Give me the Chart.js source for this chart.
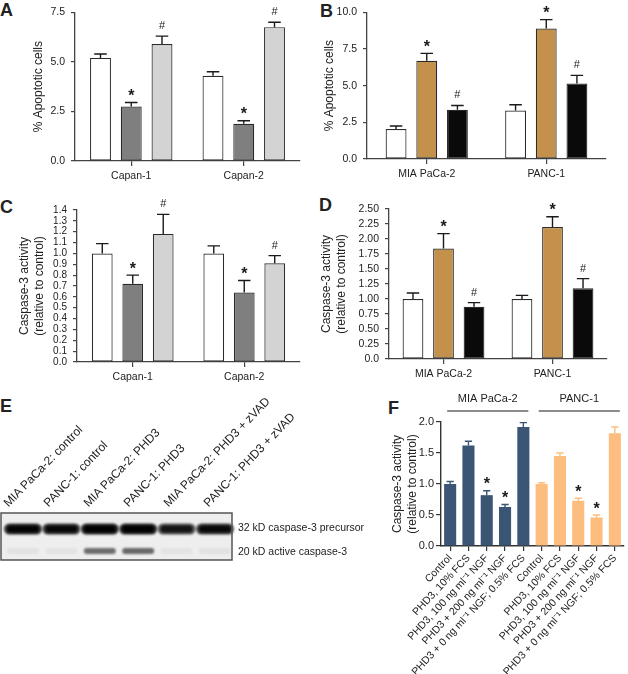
<!DOCTYPE html>
<html>
<head>
<meta charset="utf-8">
<script src="https://cdn.jsdelivr.net/npm/chart.js@4.4.0/dist/chart.umd.min.js"></script>
<style>
  body { margin: 0; background: #fff; width: 628px; height: 674px; position: relative; overflow: hidden;
         font-family: "Liberation Sans", Arial, sans-serif; color: #222; }
  canvas { position: absolute; }
  .letter { position: absolute; font-weight: bold; font-size: 18px; line-height: 18px; }
  .lane { position: absolute; font-size: 12px; line-height: 12px; white-space: nowrap;
          transform-origin: 0 100%; transform: rotate(-46deg); }
  .band { position: absolute; font-size: 10.5px; line-height: 12px; white-space: nowrap; }
</style>
</head>
<body>
<div class="letter" style="left:0px;top:1px">A</div>
<div class="letter" style="left:320px;top:2px">B</div>
<div class="letter" style="left:0px;top:198px">C</div>
<div class="letter" style="left:319px;top:196px">D</div>
<div class="letter" style="left:0px;top:397px">E</div>
<div class="letter" style="left:388px;top:399px">F</div>

<canvas id="chartA" width="310" height="190" style="left:0;top:0"></canvas>
<canvas id="chartB" width="314" height="190" style="left:314px;top:0"></canvas>
<canvas id="chartC" width="310" height="195" style="left:0;top:195px"></canvas>
<canvas id="chartD" width="314" height="195" style="left:314px;top:195px"></canvas>
<canvas id="blot" width="240" height="62" style="left:0;top:505px"></canvas>
<div id="laneLabels"></div>
<div class="band" style="left:238px;top:521px">32 kD caspase-3 precursor</div>
<div class="band" style="left:238px;top:545px">20 kD active caspase-3</div>
<canvas id="chartF" width="240" height="284" style="left:388px;top:390px"></canvas>

<script>
Chart.defaults.font.family = '"Liberation Sans", Arial, sans-serif';
Chart.defaults.color = '#222';

// ---- data ----
var capanLabels = ['Capan-1', 'Capan-2'];
var pancLabels = ['MIA PaCa-2', 'PANC-1'];

// A: % apoptotic cells (Capan)
var aControl = [5.2, 4.3];
var aControlErr = [0.2, 0.2];
var aPhd3 = [2.75, 1.88];
var aPhd3Err = [0.2, 0.15];
var aRescue = [5.9, 6.75];
var aRescueErr = [0.4, 0.25];

// B: % apoptotic cells (MIA PaCa-2, PANC-1)
var bControl = [2.05, 3.3];
var bControlErr = [0.2, 0.4];
var bPhd3 = [6.7, 8.9];
var bPhd3Err = [0.5, 0.6];
var bRescue = [3.35, 5.15];
var bRescueErr = [0.3, 0.55];

// C: caspase-3 activity (Capan)
var cControl = [1.0, 1.0];
var cControlErr = [0.09, 0.07];
var cPhd3 = [0.72, 0.64];
var cPhd3Err = [0.08, 0.11];
var cRescue = [1.18, 0.91];
var cRescueErr = [0.18, 0.07];

// D: caspase-3 activity (MIA PaCa-2, PANC-1)
var dControl = [1.0, 1.0];
var dControlErr = [0.1, 0.06];
var dPhd3 = [1.84, 2.2];
var dPhd3Err = [0.25, 0.17];
var dRescue = [0.87, 1.18];
var dRescueErr = [0.07, 0.16];

// significance marks per series
var noMarks = ['', ''];
var starMarks = ['*', '*'];
var hashMarks = ['#', '#'];

// E: western blot lanes
var laneNames = ['MIA PaCa-2: control', 'PANC-1: control', 'MIA PaCa-2: PHD3',
                 'PANC-1: PHD3', 'MIA PaCa-2: PHD3 + zVAD', 'PANC-1: PHD3 + zVAD'];
var precursorLevel = [0.95, 0.9, 1.0, 1.0, 0.78, 0.88];
var activeLevel = [0.06, 0.05, 0.62, 0.64, 0.05, 0.06];

// F: caspase-3 activity with NGF
var fGroups = ['MIA PaCa-2', 'PANC-1'];
var fLabels = ['Control', 'PHD3, 10% FCS', 'PHD3, 100 ng ml\u207B\u00B9 NGF', 'PHD3 + 200 ng ml\u207B\u00B9 NGF',
               'PHD3 + 0 ng ml\u207B\u00B9 NGF; 0.5% FCS',
               'Control', 'PHD3, 10% FCS', 'PHD3, 100 ng ml\u207B\u00B9 NGF', 'PHD3 + 200 ng ml\u207B\u00B9 NGF',
               'PHD3 + 0 ng ml\u207B\u00B9 NGF; 0.5% FCS'];
var fMeans = [1.0, 1.62, 0.82, 0.63, 1.92, 1.0, 1.45, 0.73, 0.46, 1.82];
var fErrors = [0.04, 0.07, 0.07, 0.04, 0.07, 0.02, 0.05, 0.04, 0.04, 0.1];
var fMarks = ['', '', '*', '*', '', '', '', '*', '*', ''];

// ---- plugins ----
var errorBars = {
  id: 'errorBars',
  afterDatasetsDraw: function(chart) {
    var ctx = chart.ctx;
    var y = chart.scales.y;
    chart.data.datasets.forEach(function(ds, i) {
      chart.getDatasetMeta(i).data.forEach(function(bar, j) {
        var top = y.getPixelForValue(ds.data[j] + ds.errors[j]);
        var half = bar.width * 0.3;
        ctx.save();
        ctx.strokeStyle = Array.isArray(ds.errorColor) ? ds.errorColor[j] : ds.errorColor;
        ctx.lineWidth = 1.4;
        ctx.beginPath();
        ctx.moveTo(bar.x, bar.y);
        ctx.lineTo(bar.x, top);
        ctx.moveTo(bar.x - half, top);
        ctx.lineTo(bar.x + half, top);
        ctx.stroke();
        var m = ds.marks ? ds.marks[j] : '';
        if (m) {
          ctx.fillStyle = '#1a1a1a';
          ctx.textAlign = 'center';
          ctx.textBaseline = 'alphabetic';
          if (m === '*') {
            ctx.font = 'bold 16px "Liberation Sans"';
            ctx.fillText(m, bar.x, top - 1.5);
          } else {
            ctx.font = '11px "Liberation Sans"';
            ctx.fillText(m, bar.x, top - 7);
          }
        }
        ctx.restore();
      });
    });
  }
};

var groupBrackets = {
  id: 'groupBrackets',
  afterDraw: function(chart) {
    var ctx = chart.ctx;
    var x = chart.scales.x;
    var lineY = chart.chartArea.top - 11;
    ctx.save();
    fGroups.forEach(function(name, g) {
      var x0 = x.getPixelForValue(g * 5) - 3;
      var x1 = x.getPixelForValue(g * 5 + 4) + 5;
      ctx.strokeStyle = '#666';
      ctx.lineWidth = 1.3;
      ctx.beginPath();
      ctx.moveTo(x0, lineY);
      ctx.lineTo(x1, lineY);
      ctx.stroke();
      ctx.fillStyle = '#222';
      ctx.font = '11px "Liberation Sans"';
      ctx.textAlign = 'center';
      ctx.textBaseline = 'middle';
      ctx.fillText(name, (x0 + x1) / 2, lineY - 12);
    });
    ctx.restore();
  }
};

// ---- grouped bar panels ----
function series(data, err, marks, color) {
  return { data: data, errors: err, marks: marks, color: color };
}

function groupedBars(id, o) {
  return new Chart(document.getElementById(id), {
    type: 'bar',
    data: {
      labels: o.labels,
      datasets: o.series.map(function(s) {
        return {
          data: s.data, errors: s.errors, marks: s.marks,
          backgroundColor: s.color, borderColor: '#2b2b2b', borderWidth: 1.2, borderSkipped: false,
          categoryPercentage: o.cat, barPercentage: 0.68, errorColor: '#1a1a1a'
        };
      })
    },
    options: {
      responsive: false,
      animation: false,
      events: [],
      layout: { padding: { left: o.pad[0], top: o.pad[1], right: o.pad[2], bottom: 0 } },
      plugins: { legend: { display: false }, tooltip: { enabled: false } },
      scales: {
        x: {
          offset: true,
          grid: { offset: false, drawOnChartArea: false, tickLength: 5, color: '#444', lineWidth: 1.2 },
          border: { display: true, color: '#444', width: 1.3 },
          ticks: { font: { size: 10.5 }, padding: 4, autoSkip: false, maxRotation: 0 },
          afterFit: function(s) { s.height = o.xh; }
        },
        y: {
          min: 0, max: o.max,
          ticks: { stepSize: o.step, autoSkip: false, font: { size: o.tickSize }, padding: 6, callback: o.fmt },
          grid: { drawOnChartArea: false, tickLength: 4, color: '#444', lineWidth: 1.2 },
          border: { display: true, color: '#444', width: 1.3 },
          title: { display: true, text: o.title, font: { size: 12, lineHeight: 1.25 }, padding: 0 },
          afterFit: function(s) { s.width = o.yw; }
        }
      }
    },
    plugins: [errorBars]
  });
}

var oneDecimal = function(v) { return v.toFixed(1); };
var twoDecimals = function(v) { return v === 0 ? '0.0' : v.toFixed(2); };

groupedBars('chartA', {
  labels: capanLabels,
  series: [series(aControl, aControlErr, noMarks, '#ffffff'),
           series(aPhd3, aPhd3Err, starMarks, '#7f7f7f'),
           series(aRescue, aRescueErr, hashMarks, '#d3d3d3')],
  max: 7.5, step: 2.5, fmt: oneDecimal, tickSize: 10.5,
  title: '% Apoptotic cells', pad: [31, 7, 10], yw: 44, xh: 29, cat: 0.82
});

groupedBars('chartB', {
  labels: pancLabels,
  series: [series(bControl, bControlErr, noMarks, '#ffffff'),
           series(bPhd3, bPhd3Err, starMarks, '#c4914c'),
           series(bRescue, bRescueErr, hashMarks, '#0a0a0a')],
  max: 10, step: 2.5, fmt: oneDecimal, tickSize: 10.5,
  title: '% Apoptotic cells', pad: [8, 12, 22], yw: 45, xh: 31, cat: 0.77
});

groupedBars('chartC', {
  labels: capanLabels,
  series: [series(cControl, cControlErr, noMarks, '#ffffff'),
           series(cPhd3, cPhd3Err, starMarks, '#7f7f7f'),
           series(cRescue, cRescueErr, hashMarks, '#d3d3d3')],
  max: 1.4, step: 0.1, fmt: oneDecimal, tickSize: 10,
  title: ['Caspase-3 activity', '(relative to control)'], pad: [17.5, 15, 10], yw: 59.5, xh: 28, cat: 0.82
});

groupedBars('chartD', {
  labels: pancLabels,
  series: [series(dControl, dControlErr, noMarks, '#ffffff'),
           series(dPhd3, dPhd3Err, starMarks, '#c4914c'),
           series(dRescue, dRescueErr, hashMarks, '#0a0a0a')],
  max: 2.5, step: 0.25, fmt: twoDecimals, tickSize: 10.5,
  title: ['Caspase-3 activity', '(relative to control)'], pad: [5.5, 14, 21], yw: 69.5, xh: 31, cat: 0.84
});

// ---- F ----
var miaBlue = '#3b5575';
var pancOrange = '#fdbd7e';
var fColors = fLabels.map(function(l, i) { return i < 5 ? miaBlue : pancOrange; });

new Chart(document.getElementById('chartF'), {
  type: 'bar',
  data: {
    labels: fLabels,
    datasets: [{
      data: fMeans, errors: fErrors, marks: fMarks,
      backgroundColor: fColors, borderWidth: 0,
      categoryPercentage: 1, barPercentage: 0.66, errorColor: fColors
    }]
  },
  options: {
    responsive: false,
    animation: false,
    events: [],
    layout: { padding: { left: 2.5, top: 32, right: 4, bottom: 0 } },
    plugins: { legend: { display: false }, tooltip: { enabled: false } },
    scales: {
      x: {
        offset: true,
        grid: { offset: false, drawOnChartArea: false, tickLength: 5, color: '#333', lineWidth: 1.2 },
        border: { display: true, color: '#333', width: 1.4 },
        ticks: { font: { size: 10.5 }, padding: 1, autoSkip: false, minRotation: 47, maxRotation: 47 },
        afterFit: function(s) { s.height = 128; }
      },
      y: {
        min: 0, max: 2,
        ticks: { stepSize: 0.5, font: { size: 11 }, padding: 2, callback: oneDecimal },
        grid: { drawOnChartArea: false, tickLength: 5, color: '#333', lineWidth: 1.2 },
        border: { display: true, color: '#333', width: 1.4 },
        title: { display: true, text: ['Caspase-3 activity', '(relative to control)'], font: { size: 12, lineHeight: 1.25 }, padding: 0 },
        afterFit: function(s) { s.width = 50.5; }
      }
    }
  },
  plugins: [errorBars, groupBrackets]
});

// ---- E: blot ----
function roundBand(ctx, cx, cy, w, h) {
  ctx.beginPath();
  ctx.roundRect(cx - w / 2, cy - h / 2, w, h, h / 2);
  ctx.fill();
}

function drawBlot() {
  var ctx = document.getElementById('blot').getContext('2d');
  ctx.fillStyle = '#eeeeee';
  ctx.fillRect(1, 8, 231, 47);
  laneNames.forEach(function(name, i) {
    var cx = 23 + i * 38.4;
    ctx.save();
    ctx.filter = 'blur(1.2px)';
    ctx.fillStyle = 'rgba(0,0,0,' + (precursorLevel[i] * 0.8) + ')';
    roundBand(ctx, cx, 24, 38, 11);
    ctx.fillStyle = 'rgba(0,0,0,' + precursorLevel[i] + ')';
    roundBand(ctx, cx, 24, 32, 7);
    ctx.fillStyle = 'rgba(30,30,30,' + activeLevel[i] + ')';
    roundBand(ctx, cx, 46, 32, 6);
    ctx.restore();
  });
  ctx.strokeStyle = '#555';
  ctx.lineWidth = 1.5;
  ctx.strokeRect(1, 8, 231, 47);

  var holder = document.getElementById('laneLabels');
  laneNames.forEach(function(name, i) {
    var d = document.createElement('div');
    d.className = 'lane';
    d.textContent = name;
    d.style.left = (10 + i * 40) + 'px';
    d.style.top = (509 - 12) + 'px';
    holder.appendChild(d);
  });
}
drawBlot();
</script>
</body>
</html>
